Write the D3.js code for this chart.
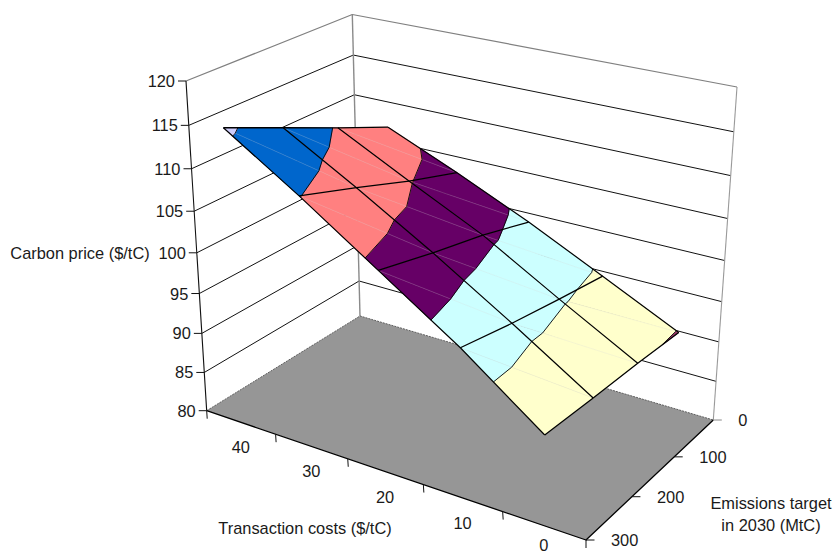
<!DOCTYPE html>
<html><head><meta charset="utf-8"><script src="https://cdn.jsdelivr.net/npm/d3@7"></script>
<style>html,body{margin:0;background:#fff;overflow:hidden}svg{display:block}text{font-family:"Liberation Sans",Arial,sans-serif;font-size:16.4px;fill:#1a1a1a}</style></head>
<body><svg id="c" width="833" height="554"></svg>
<script>
const tcCats=[40,30,20,10,0];
const emTicks=[0,100,200,300];
const priceTicks=[80,85,90,95,100,105,110,115,120];
const priceTc40=[106.8,109.7,112.7,115.7];
const priceTc30=[103.0,105.2,107.7,110.1];
const priceTc20=[98.9,100.8,102.3,104.0];
const priceTc10=[94.4,95.4,96.5,97.8];
const priceTc0=[89.85,90.2,90.4,90.7];
const bandColors=["#9999FF","#993366","#FFFFCC","#CCFFFF","#660066","#FF8080","#0066CC","#CCCCFF"];
const grid=[priceTc40,priceTc30,priceTc20,priceTc10,priceTc0];

function quadMap(q){const [[x0,y0],[x1,y1],[x2,y2],[x3,y3]]=q;const dx1=x1-x2,dx2=x3-x2,sx=x0-x1+x2-x3,dy1=y1-y2,dy2=y3-y2,sy=y0-y1+y2-y3,den=dx1*dy2-dx2*dy1,g=(sx*dy2-dx2*sy)/den,h=(dx1*sy-sx*dy1)/den,a=x1-x0+g*x1,b=x3-x0+h*x3,d=y1-y0+g*y1,e=y3-y0+h*y3;return (u,v)=>{const w=g*u+h*v+1;return [(a*u+b*v+x0)/w,(d*u+e*v+y0)/w]}}
const floorMap=quadMap([[360,316],[713.3,420],[586,540],[206.7,410.7]]);
const topMap=quadMap([[352.3,14.5],[737,87],[595,176],[186,81]]);
const persp=0.919;
const uScale=d3.scaleBand().domain(tcCats).range([0,1]);
const vScale=d3.scaleLinear().domain([0,300]).range([0,1]);
const zScale=d3.scaleLinear().domain([80,120]).range([0,1]);
const uOf=c=>uScale(c)+uScale.bandwidth()/2;
function project(u,v,price){const F=floorMap(u,v),T=topMap(u,v),f=zScale(price),t=persp*f/(1+(persp-1)*f);return [F[0]+(T[0]-F[0])*t,F[1]+(T[1]-F[1])*t]}

const svg=d3.select("#c");
const line=d3.line();
const path=(g,pts,stroke,w,fill,dash)=>g.append("path").attr("d",line(pts)+(fill?"Z":"")).attr("fill",fill||"none").attr("stroke",stroke).attr("stroke-width",w).attr("stroke-dasharray",dash||null).attr("stroke-linejoin","round");

// walls
const walls=svg.append("g");
priceTicks.slice(1).forEach(p=>{
  const c=p===120?"#808080":"#111";
  path(walls,[project(0,1,p),project(0,0,p),project(1,0,p)],c,p===120?1.2:1);
});
path(walls,[project(0,0,80),project(0,0,120)],"#8a8a8a",1.4);
path(walls,[project(1,0,80),project(1,0,120)],"#999",1.1);

// floor
const floorG=svg.append("g");
path(floorG,[floorMap(0,0),floorMap(1,0),floorMap(1,1),floorMap(0,1)],"none",0,"#969696");
path(floorG,[floorMap(0,1),floorMap(0,0),floorMap(1,0)],"#5f5f5f",1,null,"2 1");
path(floorG,[floorMap(0,1),floorMap(1,1),floorMap(1,0)],"#000",1.3);
path(floorG,[project(0,1,80),project(0,1,120)],"#111",1.1);

// surface: each grid cell is cut along one diagonal, each triangle is cut into price bands
const vert=(i,j)=>({u:uOf(tcCats[i]),v:vScale(emTicks[j]),z:grid[i][j]});
const lerp=(a,b,t)=>({u:a.u+(b.u-a.u)*t,v:a.v+(b.v-a.v)*t,z:a.z+(b.z-a.z)*t});
function clip(poly,keep,level){
  const out=[];
  poly.forEach((a,i)=>{const b=poly[(i+1)%poly.length],ia=keep(a.z),ib=keep(b.z);
    if(ia)out.push(a);
    if(ia!==ib)out.push(lerp(a,b,(level-a.z)/(b.z-a.z)));});
  return out;
}
const pr=d=>project(d.u,d.v,d.z);
const tris=[];
d3.range(tcCats.length-1).forEach(i=>d3.range(1,emTicks.length).forEach(j=>{
  tris.push([vert(i,j),vert(i+1,j),vert(i+1,j-1)]);
  tris.push([vert(i,j),vert(i+1,j-1),vert(i,j-1)]);
}));
const surf=svg.append("g");
tris.forEach(t=>bandColors.forEach((col,b)=>{
  const lo=80+5*b,hi=lo+5;
  let poly=clip(t,z=>z>=lo,lo);
  if(poly.length)poly=clip(poly,z=>z<=hi,hi);
  if(poly.length>=3)path(surf,poly.map(pr),col,0.6,col);
}));
// faint cell diagonals
d3.range(tcCats.length-1).forEach(i=>d3.range(1,emTicks.length).forEach(j=>{
  const a=vert(i,j),b=vert(i+1,j-1);
  path(surf,[pr(a),pr(b)],"rgba(205,205,205,0.3)",0.7);
}));
// band boundaries
tris.forEach(t=>priceTicks.forEach(lev=>{
  const pts=[];
  t.forEach((a,i)=>{const b=t[(i+1)%3];if((a.z<lev)!==(b.z<lev))pts.push(lerp(a,b,(lev-a.z)/(b.z-a.z)));});
  if(pts.length===2)path(surf,pts.map(pr),"#000",0.9);
}));
// mesh
tcCats.forEach((c,i)=>path(surf,emTicks.map((e,j)=>pr(vert(i,j))),"#000",1.3));
emTicks.forEach((e,j)=>path(surf,tcCats.map((c,i)=>pr(vert(i,j))),"#000",1.2));

// ticks + labels
const axes=svg.append("g");
const label=(x,y,t,a)=>axes.append("text").attr("x",x).attr("y",y).attr("text-anchor",a||"middle").attr("dominant-baseline","central").text(t);
priceTicks.forEach(p=>{const [x,y]=project(0,1,p);
  path(axes,[[x-8,y],[x,y]],"#111",1);
  label(x-11,y,p,"end");});
tcCats.forEach((c,i)=>{
  const [x,y]=floorMap(i/5,1);
  path(axes,[[x,y],[x+0.5,y+8]],"#111",1);
  const [mx,my]=floorMap(uOf(c),1);
  label(mx,Math.min(my+25,545),c);
});
const fc=floorMap(1,1);path(axes,[fc,[fc[0],fc[1]+8]],"#111",1);
emTicks.forEach(e=>{const [x,y]=floorMap(1,vScale(e));
  path(axes,[[x,y],[x+8.5,y]],e===0?"#888":"#111",1);
  label(x+25,y,e,"start");});
label(80,253,"Carbon price ($/tC)");
label(305,528,"Transaction costs ($/tC)");
label(771,503,"Emissions target");
label(771,525,"in 2030 (MtC)");
</script></body></html>
